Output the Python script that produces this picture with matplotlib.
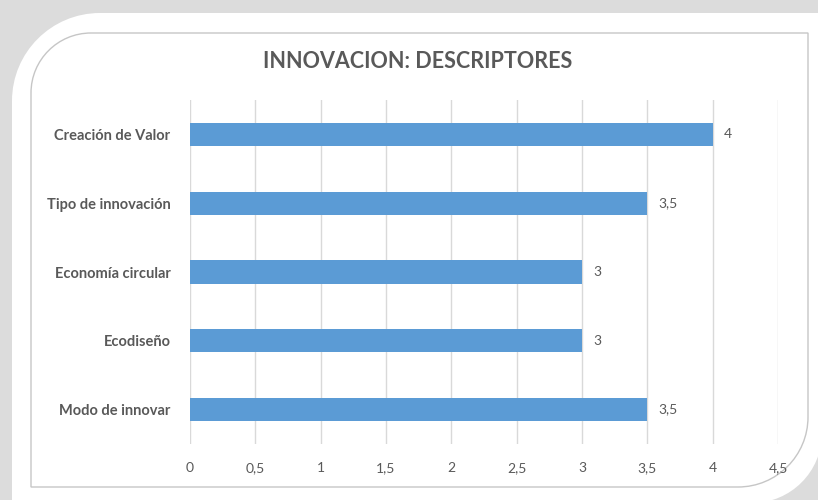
import matplotlib
matplotlib.use("Agg")
import matplotlib.pyplot as plt
from matplotlib.path import Path
from matplotlib.patches import PathPatch
import numpy as np

plt.rcParams['font.family'] = ['Lato', 'DejaVu Sans']

# datos
categorias = ["Creación de Valor", "Tipo de innovación", "Economía circular",
              "Ecodiseño", "Modo de innovar"]
valores = [4, 3.5, 3, 3, 3.5]
ticks_x = [0, 0.5, 1, 1.5, 2, 2.5, 3, 3.5, 4, 4.5]
titulo = "INNOVACION: DESCRIPTORES"

GRIS_TXT = "#595959"
AZUL = "#5b9bd5"


def fmt(v):
    s = ("%g" % v).replace(".", ",")
    return s


def marco(x0, y0, x1, y1, r1, r2):
    # rectangulo con esquinas redondeadas arriba-izq (r1) y abajo-der (r2), coords pixel
    k = 0.5523
    verts = [
        (x0, y0 + r1),
        (x0, y0 + r1 - k * r1), (x0 + r1 - k * r1, y0), (x0 + r1, y0),
        (x1, y0),
        (x1, y1 - r2),
        (x1, y1 - r2 + k * r2), (x1 - r2 + k * r2, y1), (x1 - r2, y1),
        (x0, y1),
        (x0, y0 + r1),
    ]
    codes = [Path.MOVETO,
             Path.CURVE4, Path.CURVE4, Path.CURVE4,
             Path.LINETO, Path.LINETO,
             Path.CURVE4, Path.CURVE4, Path.CURVE4,
             Path.LINETO, Path.CLOSEPOLY]
    return Path(verts, codes)


fig = plt.figure(figsize=(8.18, 5), dpi=100)
fig.patch.set_facecolor("#dcdcdc")

# fondo y marcos
bg = fig.add_axes([0, 0, 1, 1])
bg.set_xlim(0, 818)
bg.set_ylim(500, 0)
bg.axis("off")
bg.add_patch(PathPatch(marco(12, 13, 822, 503, 88, 70), facecolor="white", edgecolor="none"))
bg.add_patch(PathPatch(marco(31, 33, 808, 487, 60, 70), facecolor="white",
                       edgecolor="#c6c6c6", lw=1.0))

# grafico
ax = fig.add_axes([190 / 818, 56 / 500, 588 / 818, 344 / 500])
ax.set_facecolor("none")
y = np.arange(len(categorias))
ax.barh(y, valores, height=0.34, color=AZUL, zorder=3)
ax.set_ylim(len(categorias) - 0.5, -0.5)
ax.set_xlim(0, 4.5)
ax.set_xticks(ticks_x)
ax.set_xticklabels([fmt(t) for t in ticks_x], fontsize=10, color=GRIS_TXT)
ax.set_yticks(y)
ax.set_yticklabels(categorias, fontsize=10.5, fontweight="bold", color=GRIS_TXT)
ax.tick_params(axis="x", length=0, pad=13)
ax.tick_params(axis="y", length=0, pad=14)
ax.grid(axis="x", color="#d9d9d9", lw=1.0, zorder=0)
for s in ax.spines.values():
    s.set_visible(False)

for yi, v in zip(y, valores):
    ax.annotate(fmt(v), (v, yi), xytext=(8, 0), textcoords="offset points",
                va="center", ha="left", fontsize=10, color=GRIS_TXT)

fig.text(418 / 818, 1 - 62 / 500, titulo, ha="center", va="center",
         fontsize=15.5, fontweight="bold", color=GRIS_TXT)

fig.savefig("out.png", dpi=100, facecolor=fig.get_facecolor())
